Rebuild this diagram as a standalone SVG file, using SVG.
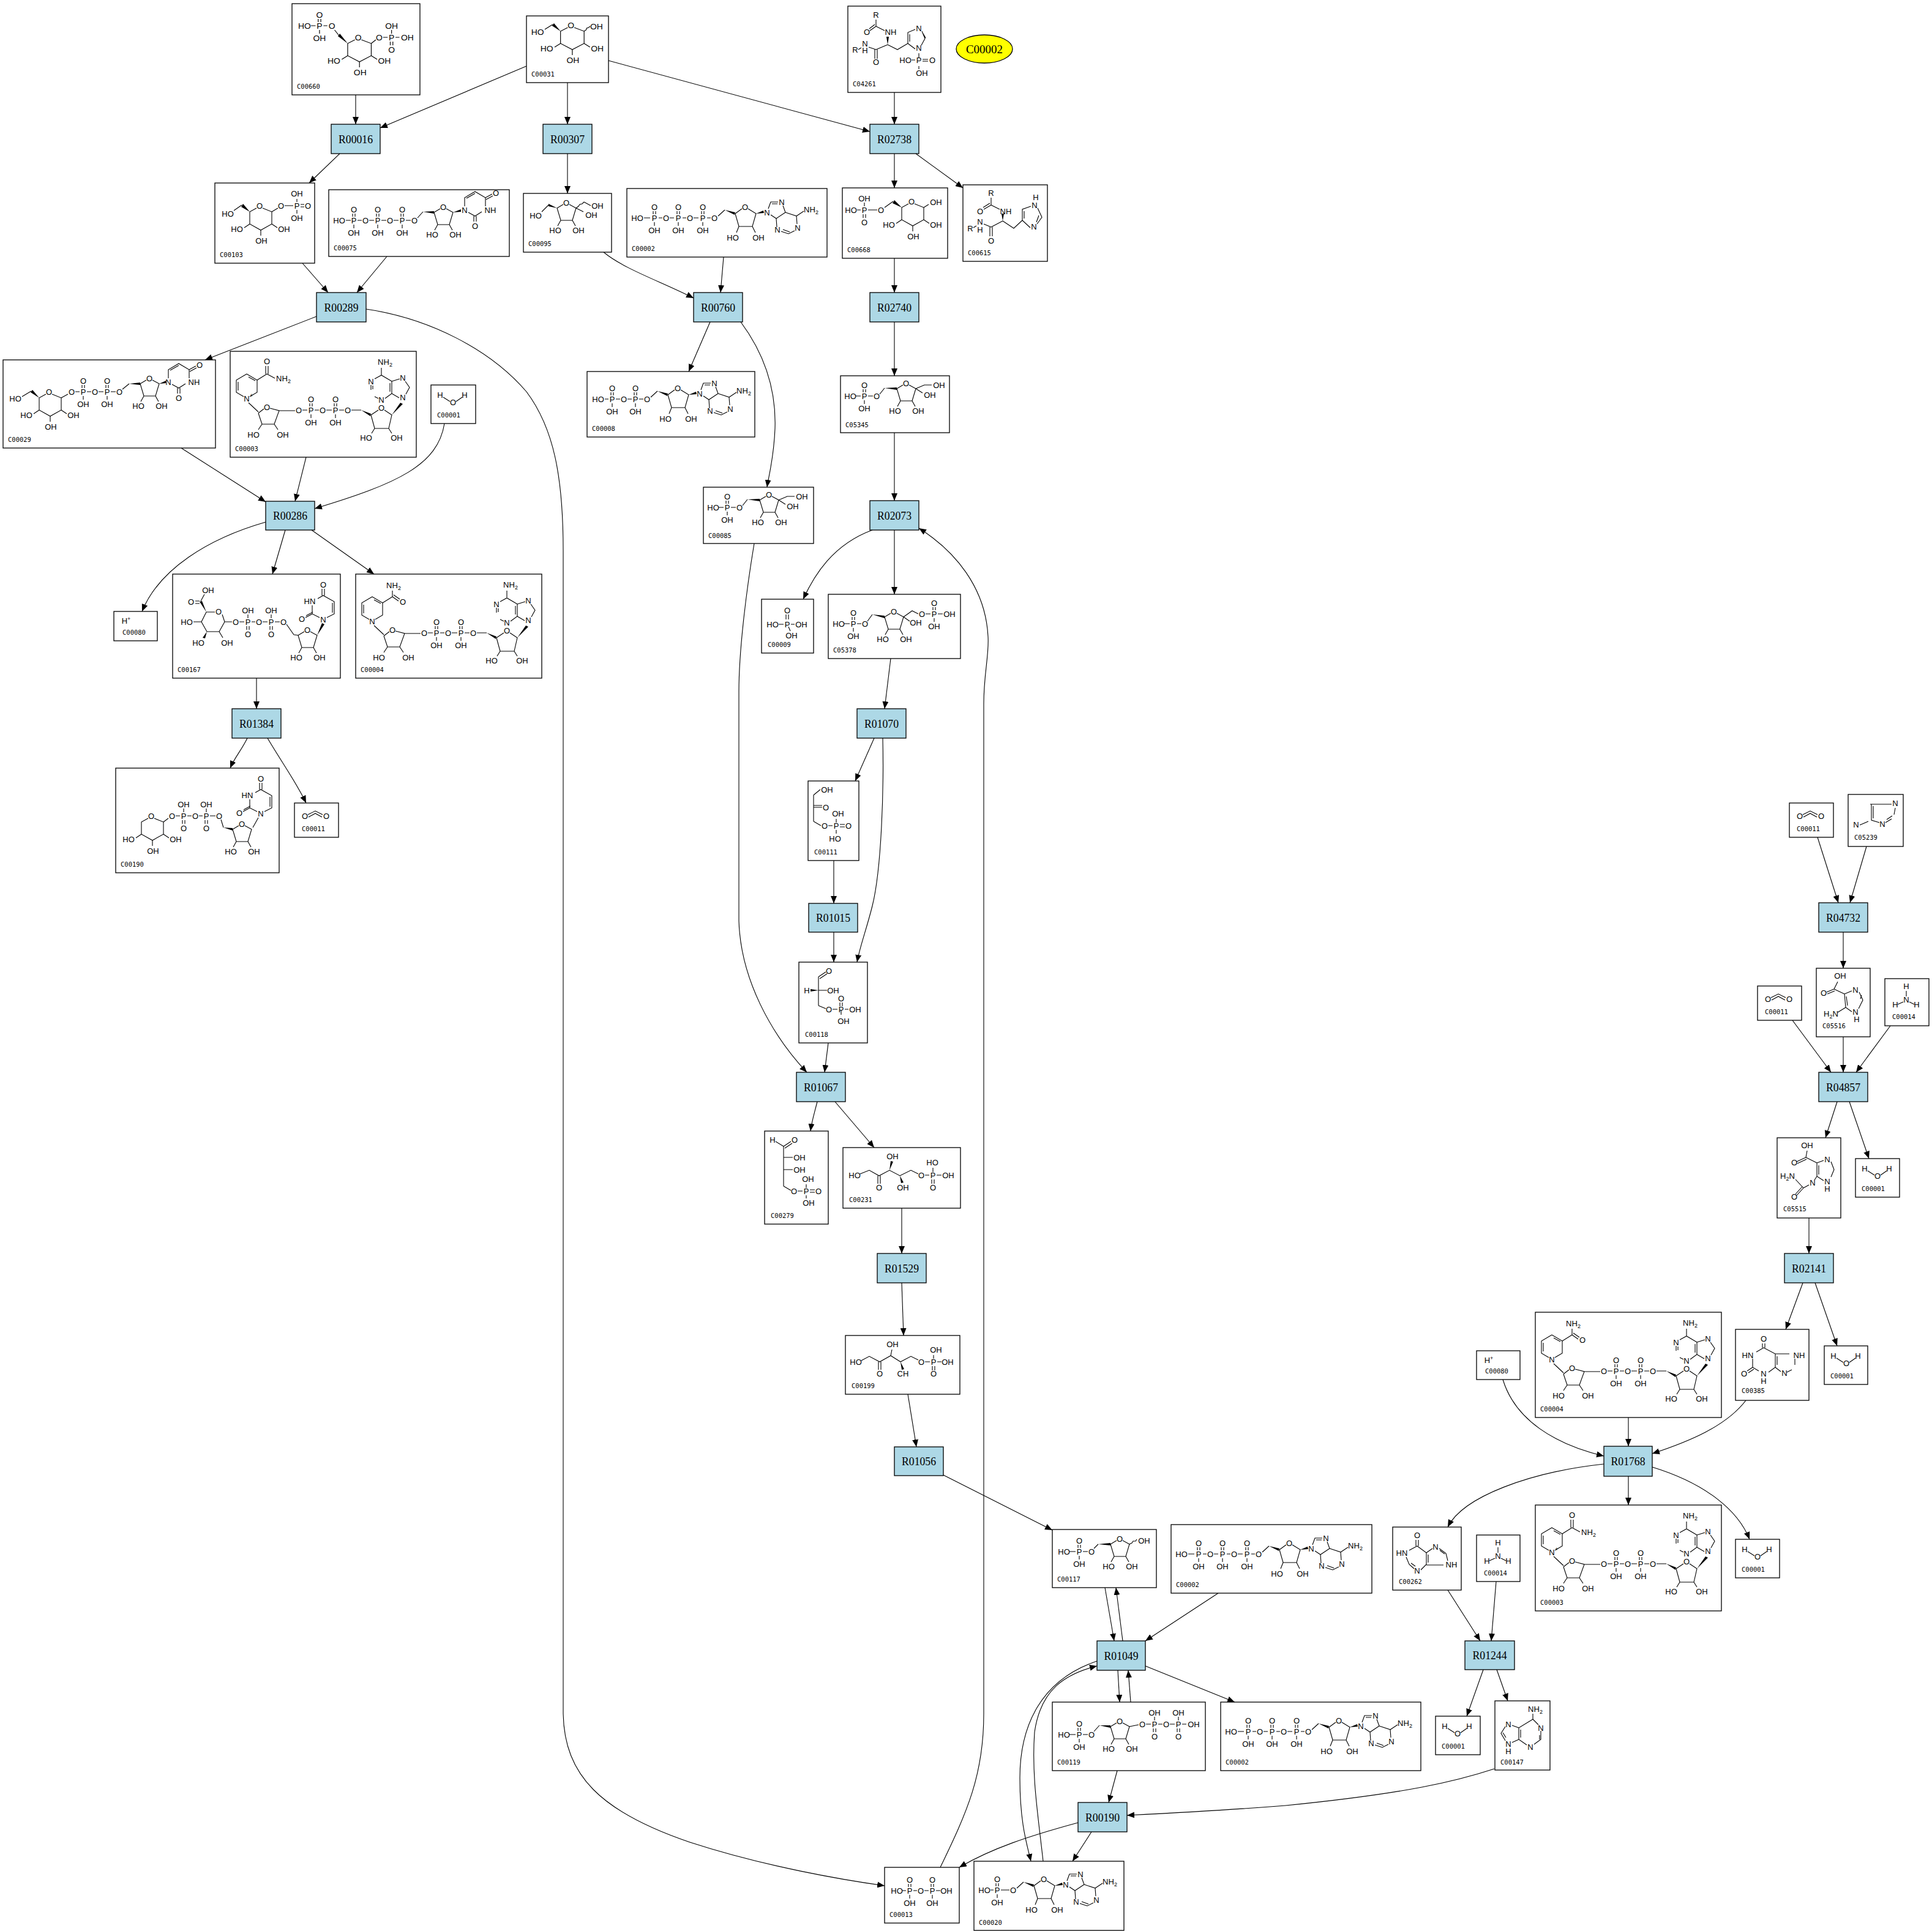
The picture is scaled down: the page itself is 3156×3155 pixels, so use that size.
<svg xmlns="http://www.w3.org/2000/svg" xmlns:xlink="http://www.w3.org/1999/xlink" width="3156" height="3155" viewBox="0 0 3156 3155">
<style>
.n>rect{fill:#fff;stroke:#000;stroke-width:1.3}
.r>rect{fill:#add8e6;stroke:#000;stroke-width:1.3}
.r>text,.el{font-family:"Liberation Serif","Times New Roman",serif;font-size:19px;text-anchor:middle;fill:#000}
.id{font-family:"DejaVu Sans Mono","Liberation Mono",monospace;font-size:10.5px;fill:#000}
.m path{fill:none;stroke:#000;stroke-width:1.1}
.m polygon{fill:#000;stroke:none}
.m text{font-family:"Liberation Sans",Arial,sans-serif;font-size:13px;text-anchor:middle;fill:#000}
.e path{fill:none;stroke:#000;stroke-width:1.1;marker-end:url(#ah)}
</style>
<defs>
<marker id="ah" viewBox="0 0 12 10" refX="12" refY="5" markerWidth="12" markerHeight="10" markerUnits="userSpaceOnUse" orient="auto"><path d="M0,0L12,5L0,10Z" fill="#000"/></marker>
<g id="pH" class="m"><path d="M-2,-6V-11M2,-6V-11M0,7V13"/><text y="5">P</text><text y="-13">O</text><text y="25">OH</text></g>
<g id="pV" class="m"><path d="M0,-6V-12M-2,7V13M2,7V13"/><text y="5">P</text><text y="-14">OH</text><text y="25">O</text></g>
<g id="fur" class="m"><path d="M-5,3L-15,9L-9,29H10L16,9L5,3M-9,29L-14,38M10,29L15,38"/><text y="5">O</text><text x="-18" y="50">HO</text><text x="20" y="50">OH</text></g>
<g id="pyr" class="m"><path d="M-5,4L-16,10V30L2,40L20,30V10L5,4M-16,30L-25,36M2,40V49M20,30L29,36"/><text y="5">O</text><text x="-37" y="43">HO</text><text x="3" y="62">OH</text><text x="40" y="43">OH</text></g>
<g id="aden" class="m"><path d="M2,-6L6,-17H18M8,-14H17M26,-11L30,0L15,10L6,4M30,0L48,6L49,19M45,30L35,35L23,31M37,32L26,28M16,24L15,10M48,6L60,-2"/><text y="5">N</text><text x="24" y="-12">N</text><text x="50" y="30">N</text><text x="17" y="33">N</text><text x="72" y="0">NH<tspan style="font-size:9px" dy="3">2</tspan></text></g>
<g id="ado" class="m"><path d="M6,-3L17,-13M34,-7L45,-15M55,-15L68,-7L62,14H40L34,-7M40,14L36,24M62,14L67,24"/><polygon points="17,-13 34,-9 33,-5"/><polygon points="68,-7 80,-12 81,-8"/><text y="5">O</text><text x="50" y="-13">O</text><text x="30" y="37">HO</text><text x="72" y="37">OH</text><use href="#aden" x="86" y="-9"/></g>
<g id="atp" class="m"><text x="17" y="53">HO</text><path d="M28,48H38M52,48H58M70,48H77M91,48H97M109,48H117M131,48H137"/><use href="#pH" x="45" y="48"/><text x="64" y="53">O</text><use href="#pH" x="84" y="48"/><text x="103" y="53">O</text><use href="#pH" x="124" y="48"/><use href="#ado" x="143" y="48"/></g>
<g id="ura" class="m"><path d="M0,-6V-20L17,-30L34,-20V-6M28,3L17,10L6,4M3,-19L17,-27M34,-20L45,-26M35,-17L46,-23M15,10V19M19,10V19"/><text y="5">N</text><text x="42" y="5">NH</text><text x="51" y="-23">O</text><text x="17" y="31">O</text></g>
<g id="urav" class="m"><path d="M6,-3L18,-9V-29L0,-39L-9,-34M-18,-23V-9L-6,-3M15,-11V-27M-2,-39V-50M2,-39V-50M-18,-9L-29,-3M-17,-12L-28,-6"/><text y="5">N</text><text x="-22" y="-25">HN</text><text y="-52">O</text><text x="-35" y="4">O</text></g>
<g id="nadc" class="m"><path d="M27,37L44,47V67L32,74M22,74L10,67V47L27,37M13,50V64M30,42L41,48M30,84L46,99M46,101L55,94M65,93L80,97L72,119H52L46,101M52,119L46,128M72,119L78,128M80,97H106M118,96H126M138,96H145M157,96H166M178,96H186M198,96H214M230,104L242,96M252,96L264,104L259,126H236L230,104M236,126L231,134M259,126L264,134M264,49L247,39L236,45M230,55V63M236,74L242,77M253,77L264,69V49M264,49L277,45M286,49L293,59L287,70M276,76L264,69M247,39V27M261,52V66M233,56V62"/><polygon points="214,96 230,102 229,106"/><polygon points="264,104 278,84 282,86"/><text x="27" y="82">N</text><text x="60" y="96">O</text><text x="38" y="141">HO</text><text x="86" y="141">OH</text><text x="112" y="101">O</text><use href="#pH" x="132" y="96"/><text x="151" y="101">O</text><use href="#pH" x="172" y="96"/><text x="192" y="101">O</text><text x="247" y="97">O</text><text x="222" y="146">HO</text><text x="272" y="146">OH</text><text x="230" y="54">N</text><text x="247" y="84">N</text><text x="282" y="48">N</text><text x="282" y="80">N</text><text x="253" y="22">NH<tspan style="font-size:9px" dy="3">2</tspan></text></g>
<g id="nadp" class="m"><use href="#nadc"/><path d="M44,47L60,37M58,37V24M62,37V24M60,37L73,44"/><text x="60" y="21">O</text><text x="87" y="49">NH<tspan style="font-size:9px" dy="3">2</tspan></text><text x="35" y="75" style="font-size:9px">+</text></g>
<g id="nadh" class="m"><use href="#nadc"/><path d="M44,47L60,37M60,37V27M60,37L70,44M62,34L72,41"/><text x="62" y="23">NH<tspan style="font-size:9px" dy="3">2</tspan></text><text x="77" y="50">O</text></g>
<g id="f6p" class="m"><text x="16" y="38">HO</text><path d="M25,33H33M45,33H53M64,30L72,20M123,21L137,15H149M123,21L134,28"/><use href="#pH" x="39" y="33"/><text x="59" y="38">O</text><polygon points="72,20 92,19 92,23"/><use href="#fur" x="107" y="12"/><text x="161" y="20">OH</text><text x="146" y="36">OH</text></g>
<g id="w" class="m"><text x="15" y="21">H</text><text x="36" y="33">O</text><text x="55" y="21">H</text><path d="M20,20L31,27M41,27L51,20"/></g>
<g id="co2" class="m"><text x="17" y="26">O</text><text x="52" y="26">O</text><path d="M22,19L34,13L46,19M23,23L34,17L45,23"/></g>
<g id="nh3" class="m"><text x="35" y="17">H</text><text x="35" y="39">N</text><text x="17" y="47">H</text><text x="52" y="47">H</text><path d="M35,20V29M30,38L21,42M40,38L48,42"/></g>
<g id="hp" class="m"><text x="20" y="20">H<tspan style="font-size:9px" dy="-5">+</tspan></text></g>
</defs>
<rect width="3156" height="3155" fill="#fff"/>

<g id="connectors" class="e">
<path d="M581,155V203"/>
<path d="M860,108L621,209"/>
<path d="M927,135V203"/>
<path d="M994,99L1421,215"/>
<path d="M1461,151V203"/>
<path d="M555,251L505,299"/>
<path d="M927,251V316"/>
<path d="M1461,251V307"/>
<path d="M1496,251L1573,307"/>
<path d="M494,430L536,478"/>
<path d="M632,419L583,478"/>
<path d="M986,412C1020,440 1080,460 1133,487"/>
<path d="M1182,420L1177,478"/>
<path d="M1461,422V478"/>
<path d="M517,517L335,588"/>
<path d="M598,505C700,520 800,570 860,640C905,700 920,780 920,900L920,2800C922,2900 980,2960 1127,3010C1250,3050 1380,3072 1445,3081"/>
<path d="M1160,526L1125,607"/>
<path d="M1210,526C1250,580 1268,640 1266,700C1264,750 1256,775 1253,796"/>
<path d="M1461,526V614"/>
<path d="M296,732L434,820"/>
<path d="M500,747L482,819"/>
<path d="M726,692C715,760 650,790 514,831"/>
<path d="M1461,707V818"/>
<path d="M434,853C340,880 260,930 232,999"/>
<path d="M466,866L445,938"/>
<path d="M509,866L611,938"/>
<path d="M1232,888C1220,960 1207,1060 1207,1130L1207,1505C1210,1600 1260,1690 1318,1752"/>
<path d="M1425,866C1360,890 1330,940 1312,979"/>
<path d="M1461,866V971"/>
<path d="M1536,3051C1580,2960 1607,2900 1607,2800L1607,1150C1607,1100 1616,1070 1614,1040C1610,960 1560,900 1501,863"/>
<path d="M419,1108V1158"/>
<path d="M1455,1076L1445,1158"/>
<path d="M404,1206C395,1225 383,1238 376,1255"/>
<path d="M437,1206C460,1245 485,1280 500,1312"/>
<path d="M1428,1206L1397,1276"/>
<path d="M1442,1206C1444,1290 1440,1420 1425,1480C1415,1520 1405,1545 1400,1572"/>
<path d="M1362,1406V1476"/>
<path d="M1362,1523V1572"/>
<path d="M1353,1704L1347,1752"/>
<path d="M1335,1800C1330,1820 1326,1832 1324,1848"/>
<path d="M1364,1800L1428,1875"/>
<path d="M1473,1974V2048"/>
<path d="M1473,2096L1476,2182"/>
<path d="M1483,2278L1497,2364"/>
<path d="M1541,2410L1719,2500"/>
<path d="M1805,2594L1820,2681"/>
<path d="M1834,2681L1823,2594"/>
<path d="M1990,2603L1871,2681"/>
<path d="M1871,2722L2017,2781"/>
<path d="M1826,2729L1829,2781"/>
<path d="M1847,2781L1843,2729"/>
<path d="M1792,2714C1700,2745 1666,2820 1666,2905C1666,2980 1678,3015 1684,3041"/>
<path d="M1704,3041C1695,2960 1685,2900 1690,2830C1700,2760 1740,2735 1792,2722"/>
<path d="M1825,2893L1811,2945"/>
<path d="M2441,2890C2380,2910 2300,2930 2100,2950C2000,2958 1900,2963 1841,2966"/>
<path d="M1761,2978C1680,3000 1620,3020 1567,3051"/>
<path d="M1783,2993L1752,3041"/>
<path d="M2969,1368L3003,1475"/>
<path d="M3049,1383L3022,1475"/>
<path d="M3011,1523V1582"/>
<path d="M2928,1667L2991,1752"/>
<path d="M3011,1694V1752"/>
<path d="M3088,1676L3032,1752"/>
<path d="M3001,1800L2982,1859"/>
<path d="M3021,1800L3053,1893"/>
<path d="M2955,1990V2048"/>
<path d="M2945,2096L2917,2172"/>
<path d="M2965,2096L3001,2199"/>
<path d="M2455,2254C2475,2320 2540,2360 2620,2379"/>
<path d="M2660,2316V2363"/>
<path d="M2852,2288C2820,2330 2760,2355 2699,2375"/>
<path d="M2620,2392C2500,2405 2390,2445 2365,2495"/>
<path d="M2660,2412V2459"/>
<path d="M2699,2397C2790,2425 2840,2470 2858,2515"/>
<path d="M2365,2598L2418,2681"/>
<path d="M2444,2584L2436,2681"/>
<path d="M2423,2728L2396,2804"/>
<path d="M2445,2728L2463,2779"/>
</g>

<g id="reactions">
<g id="R00016" class="r" transform="translate(541,203)"><rect width="80" height="48"/><text x="40" y="31" textLength="56" lengthAdjust="spacingAndGlyphs">R00016</text></g>
<g id="R00307" class="r" transform="translate(887,203)"><rect width="80" height="48"/><text x="40" y="31" textLength="56" lengthAdjust="spacingAndGlyphs">R00307</text></g>
<g id="R02738" class="r" transform="translate(1421,203)"><rect width="80" height="48"/><text x="40" y="31" textLength="56" lengthAdjust="spacingAndGlyphs">R02738</text></g>
<g id="R00289" class="r" transform="translate(517,478)"><rect width="81" height="48"/><text x="40.5" y="31" textLength="56" lengthAdjust="spacingAndGlyphs">R00289</text></g>
<g id="R00760" class="r" transform="translate(1133,478)"><rect width="80" height="48"/><text x="40" y="31" textLength="56" lengthAdjust="spacingAndGlyphs">R00760</text></g>
<g id="R02740" class="r" transform="translate(1421,478)"><rect width="80" height="48"/><text x="40" y="31" textLength="56" lengthAdjust="spacingAndGlyphs">R02740</text></g>
<g id="R00286" class="r" transform="translate(434,819)"><rect width="80" height="47"/><text x="40" y="30" textLength="56" lengthAdjust="spacingAndGlyphs">R00286</text></g>
<g id="R02073" class="r" transform="translate(1421,818)"><rect width="80" height="48"/><text x="40" y="31" textLength="56" lengthAdjust="spacingAndGlyphs">R02073</text></g>
<g id="R01384" class="r" transform="translate(379,1158)"><rect width="80" height="48"/><text x="40" y="31" textLength="56" lengthAdjust="spacingAndGlyphs">R01384</text></g>
<g id="R01070" class="r" transform="translate(1400,1158)"><rect width="80" height="48"/><text x="40" y="31" textLength="56" lengthAdjust="spacingAndGlyphs">R01070</text></g>
<g id="R01015" class="r" transform="translate(1321,1476)"><rect width="80" height="47"/><text x="40" y="30" textLength="56" lengthAdjust="spacingAndGlyphs">R01015</text></g>
<g id="R01067" class="r" transform="translate(1301,1752)"><rect width="80" height="48"/><text x="40" y="31" textLength="56" lengthAdjust="spacingAndGlyphs">R01067</text></g>
<g id="R01529" class="r" transform="translate(1433,2048)"><rect width="80" height="48"/><text x="40" y="31" textLength="56" lengthAdjust="spacingAndGlyphs">R01529</text></g>
<g id="R01056" class="r" transform="translate(1461,2364)"><rect width="80" height="47"/><text x="40" y="30" textLength="56" lengthAdjust="spacingAndGlyphs">R01056</text></g>
<g id="R04732" class="r" transform="translate(2971,1475)"><rect width="80" height="48"/><text x="40" y="31" textLength="56" lengthAdjust="spacingAndGlyphs">R04732</text></g>
<g id="R04857" class="r" transform="translate(2971,1752)"><rect width="80" height="48"/><text x="40" y="31" textLength="56" lengthAdjust="spacingAndGlyphs">R04857</text></g>
<g id="R02141" class="r" transform="translate(2915,2048)"><rect width="80" height="48"/><text x="40" y="31" textLength="56" lengthAdjust="spacingAndGlyphs">R02141</text></g>
<g id="R01768" class="r" transform="translate(2620,2363)"><rect width="79" height="49"/><text x="39.5" y="31" textLength="56" lengthAdjust="spacingAndGlyphs">R01768</text></g>
<g id="R01244" class="r" transform="translate(2393,2681)"><rect width="81" height="47"/><text x="40.5" y="30" textLength="56" lengthAdjust="spacingAndGlyphs">R01244</text></g>
<g id="R01049" class="r" transform="translate(1792,2681)"><rect width="79" height="48"/><text x="39.5" y="31" textLength="56" lengthAdjust="spacingAndGlyphs">R01049</text></g>
<g id="R00190" class="r" transform="translate(1761,2945)"><rect width="80" height="48"/><text x="40" y="31" textLength="56" lengthAdjust="spacingAndGlyphs">R00190</text></g>
</g>

<g id="C00002_ellipse"><ellipse cx="1608" cy="80" rx="46" ry="23" fill="#ffff00" stroke="#000" stroke-width="1.3"/><text class="el" x="1608" y="87">C00002</text></g>

<g id="compounds">
<g id="C00660" class="n" transform="translate(477,6)"><rect width="209" height="149"/><g class="m" transform="scale(1.07,1)"><use href="#pyr" x="101" y="55"/><polygon points="85,65 70,53 73,49"/><path d="M71,51L65,43M54,36H48M36,36H29M121,65L128,59M139,55H146M158,55H164"/><text x="61" y="41">O</text><use href="#pH" x="42" y="36"/><text x="19" y="41">HO</text><text x="133" y="60">O</text><use href="#pV" x="152" y="55"/><text x="176" y="60">OH</text></g><text class="id" x="8" y="139">C00660</text></g>

<g id="C00031" class="n" transform="translate(860,26)"><rect width="134" height="109"/><g class="m" transform="scale(1.07,1)"><use href="#pyr" x="68" y="15"/><polygon points="52,25 39,16 42,12"/><path d="M40,14L28,22M88,25l3,-2l1,-3l3,-1l2,-2"/><text x="17" y="31">HO</text><text x="107" y="22">OH</text></g><text class="id" x="8" y="99">C00031</text></g>

<g id="C04261" class="n" transform="translate(1385,10)"><rect width="152" height="141"/><g class="m"><path d="M46,22V33M46,33L36,40M44,30L35,37M46,33L60,40M65,63L46,71M44,71V86M48,71V86M46,71L34,67M22,68L17,71M65,63L81,71L98,61M98,61V43L110,38M101,58V46M121,41L126,53L120,64M123,45L127,52M110,70L98,61M116,77V84M110,88H104M122,87H131M122,90H131M116,98V103"/><polygon points="65,63 63,50 67,50"/><text x="46" y="19">R</text><text x="31" y="47">O</text><text x="70" y="47">NH</text><text x="28" y="66">N</text><text x="28" y="77">H</text><text x="12" y="76">R</text><text x="46" y="96">O</text><text x="116" y="41">N</text><text x="116" y="73">N</text><text x="116" y="93">P</text><text x="94" y="93">HO</text><text x="138" y="93">O</text><text x="121" y="114">OH</text></g><text class="id" x="8" y="131">C04261</text></g>

<g id="C00103" class="n" transform="translate(351,299)"><rect width="163" height="131"/><g class="m"><use href="#pyr" x="73" y="37"/><polygon points="57,47 43,39 46,34"/><path d="M44,36L31,45M93,47L103,41M114,37H128M134,31V26M134,44V50M140,35H146M140,39H146"/><text x="21" y="55">HO</text><text x="108" y="42">O</text><text x="134" y="42">P</text><text x="134" y="22">OH</text><text x="134" y="62">OH</text><text x="152" y="42">O</text></g><text class="id" x="8" y="121">C00103</text></g>

<g id="C00075" class="n" transform="translate(537,310)"><rect width="295" height="109"/><g class="m"><text x="17" y="55">HO</text><path d="M28,50H36M47,50H54M66,50H74M86,50H94M106,50H114M126,50H134M145,46L154,36"/><use href="#pH" x="41" y="50"/><use href="#pH" x="80" y="50"/><use href="#pH" x="120" y="50"/><text x="60" y="55">O</text><text x="100" y="55">O</text><text x="140" y="55">O</text><polygon points="154,36 172,35 172,39"/><use href="#fur" x="187" y="28"/><polygon points="203,37 216,32 216,36"/><use href="#ura" x="222" y="33"/></g><text class="id" x="8" y="99">C00075</text></g>

<g id="C00095" class="n" transform="translate(855,316)"><rect width="144" height="96"/><g class="m"><use href="#fur" x="70" y="15"/><polygon points="55,24 41,17 41,21"/><path d="M41,19L30,30M86,24l4,-3l2,-3l4,-1l3,-3M99,14L110,20M86,24L98,30"/><text x="20" y="41">HO</text><text x="121" y="25">OH</text><text x="111" y="40">OH</text></g><text class="id" x="8" y="86">C00095</text></g>

<g id="C00002_1" class="n" transform="translate(1024,308)"><rect width="327" height="112"/><use href="#atp"/><text class="id" x="8" y="102">C00002</text></g>

<g id="C00668" class="n" transform="translate(1376,307)"><rect width="172" height="115"/><g class="m"><use href="#pyr" x="113" y="22"/><polygon points="97,32 82,25 85,20"/><path d="M133,32L141,27M83,22L69,32M57,36H42M30,36H24"/><text x="153" y="28">OH</text><text x="63" y="41">O</text><use href="#pV" x="36" y="36"/><text x="14" y="41">HO</text></g><text class="id" x="8" y="105">C00668</text></g>

<g id="C00615" class="n" transform="translate(1573,302)"><rect width="138" height="125"/><g class="m"><path d="M46,21V33M46,33L34,40M44,30L33,37M46,33L60,40M65,59L46,69M44,69V84M48,69V84M46,69L34,64M22,67L17,70M65,59L83,71L97,58M97,58V40L111,35M100,55V43M122,38L129,53L121,64M124,50L120,61M110,70L97,58"/><polygon points="65,59 63,47 67,47"/><text x="46" y="18">R</text><text x="28" y="48">O</text><text x="70" y="48">NH</text><text x="28" y="65">N</text><text x="28" y="78">H</text><text x="12" y="76">R</text><text x="46" y="96">O</text><text x="119" y="25">H</text><text x="117" y="38">N</text><text x="116" y="73">N</text></g><text class="id" x="8" y="115">C00615</text></g>

<g id="C00029" class="n" transform="translate(5,588)"><rect width="347" height="144"/><g class="m"><use href="#pyr" x="75" y="52"/><polygon points="59,62 45,53 48,49"/><path d="M46,51L31,60M95,62L106,56M118,52H125M137,52H144M156,52H164M176,52H184M195,48L206,39"/><text x="20" y="68">HO</text><text x="112" y="57">O</text><use href="#pH" x="131" y="52"/><text x="150" y="57">O</text><use href="#pH" x="170" y="52"/><text x="190" y="57">O</text><polygon points="206,39 224,37 224,41"/><use href="#fur" x="239" y="30"/><polygon points="255,39 266,34 266,38"/><use href="#ura" x="270" y="36"/></g><text class="id" x="8" y="134">C00029</text></g>

<g id="C00003_1" class="n" transform="translate(376,574)"><rect width="304" height="173"/><use href="#nadp"/><text class="id" x="8" y="163">C00003</text></g>

<g id="C00001_1" class="n" transform="translate(704,629)"><rect width="73" height="63"/><use href="#w"/><text class="id" x="10" y="53">C00001</text></g>

<g id="C00008" class="n" transform="translate(959,607)"><rect width="274" height="107"/><g class="m"><text x="18" y="50">HO</text><path d="M29,45H35M47,45H54M66,45H73M85,45H92"/><use href="#pH" x="41" y="45"/><text x="60" y="50">O</text><use href="#pH" x="79" y="45"/><use href="#ado" x="98" y="45"/></g><text class="id" x="8" y="97">C00008</text></g>

<g id="C05345" class="n" transform="translate(1373,614)"><rect width="178" height="93"/><use href="#f6p"/><text class="id" x="8" y="84">C05345</text></g>

<g id="C00085" class="n" transform="translate(1149,796)"><rect width="180" height="92"/><use href="#f6p"/><text class="id" x="8" y="83">C00085</text></g>

<g id="C00080_1" class="n" transform="translate(186,999)"><rect width="71" height="48"/><use href="#hp"/><text class="id" x="14" y="38">C00080</text></g>

<g id="C00167" class="n" transform="translate(282,938)"><rect width="274" height="170"/><g class="m"><path d="M55,62H69M81,66L85,78L76,94H56L47,78L55,62M44,44H37M44,48H37M46,44L52,33M47,78H34M76,94L82,104M85,78H97M109,78H117M129,78H135M147,78H155M167,78H175M186,82L198,99L205,100"/><polygon points="55,62 44,45 48,44"/><polygon points="56,94 49,104 53,105"/><polygon points="236,100 244,80 248,82"/><text x="75" y="66">O</text><text x="30" y="50">O</text><text x="58" y="31">OH</text><text x="23" y="83">HO</text><text x="42" y="117">HO</text><text x="89" y="117">OH</text><text x="103" y="83">O</text><use href="#pV" x="123" y="78"/><text x="141" y="83">O</text><use href="#pV" x="161" y="78"/><text x="181" y="83">O</text><use href="#fur" x="220" y="91"/><use href="#urav" x="246" y="74"/></g><text class="id" x="8" y="160">C00167</text></g>

<g id="C00004_1" class="n" transform="translate(581,938)"><rect width="304" height="170"/><use href="#nadh"/><text class="id" x="8" y="160">C00004</text></g>

<g id="C00009" class="n" transform="translate(1244,979)"><rect width="85" height="88"/><g class="m"><path d="M40,33V25M44,33V25M28,41H36M48,41H54M44,45L47,52"/><text x="42" y="46">P</text><text x="42" y="23">O</text><text x="18" y="46">HO</text><text x="65" y="46">OH</text><text x="49" y="64">OH</text></g><text class="id" x="10" y="78">C00009</text></g>

<g id="C05378" class="n" transform="translate(1353,971)"><rect width="216" height="105"/><g class="m"><text x="17" y="53">HO</text><path d="M26,48H35M47,48H54M64,44L72,33M123,37L133,44M123,37L137,27L147,32M159,32H167M179,32H187"/><use href="#pH" x="41" y="48"/><text x="60" y="53">O</text><polygon points="72,33 92,35 92,39"/><use href="#fur" x="107" y="28"/><text x="143" y="51">OH</text><text x="153" y="37">O</text><use href="#pH" x="173" y="32"/><text x="198" y="37">OH</text></g><text class="id" x="8" y="95">C05378</text></g>

<g id="C00011_1" class="n" transform="translate(481,1312)"><rect width="72" height="56"/><use href="#co2"/><text class="id" x="12" y="46">C00011</text></g>

<g id="C00190" class="n" transform="translate(189,1255)"><rect width="267" height="171"/><g class="m"><use href="#pyr" x="58" y="78"/><path d="M78,88L86,82M98,78H105M117,78H124M136,78H142M154,78H163M172,84L176,97M224,97L233,81"/><text x="92" y="83">O</text><use href="#pV" x="111" y="78"/><text x="130" y="83">O</text><use href="#pV" x="148" y="78"/><text x="169" y="83">O</text><polygon points="176,97 191,98 191,102"/><use href="#fur" x="206" y="91"/><use href="#urav" x="237" y="74"/></g><text class="id" x="8" y="161">C00190</text></g>

<g id="C00111" class="n" transform="translate(1320,1276)"><rect width="83" height="130"/><g class="m"><path d="M9,23L20,14M9,23V66M9,43H23M9,40H23M9,66L21,73M33,73H40M46,68V62M52,71H60M52,75H60M46,80V86"/><text x="31" y="19">OH</text><text x="29" y="48">O</text><text x="27" y="78">O</text><text x="46" y="78">P</text><text x="49" y="58">OH</text><text x="66" y="78">O</text><text x="44" y="99">HO</text></g><text class="id" x="10" y="120">C00111</text></g>

<g id="C00118" class="n" transform="translate(1305,1572)"><rect width="112" height="132"/><g class="m"><path d="M32,24L44,16M34,27L46,19M32,24V71M32,46H46M32,71L44,76M55,77H63M67,72V66M71,72V66M75,77H81M69,79V86"/><polygon points="32,46 19,44 19,48"/><text x="49" y="19">O</text><text x="13" y="51">H</text><text x="56" y="51">OH</text><text x="49" y="82">O</text><text x="69" y="82">P</text><text x="69" y="64">O</text><text x="92" y="82">OH</text><text x="73" y="101">OH</text></g><text class="id" x="10" y="122">C00118</text></g>

<g id="C00279" class="n" transform="translate(1249,1848)"><rect width="104" height="152"/><g class="m"><path d="M18,17L31,25M31,25L43,17M33,28L45,20M31,25V90M31,43H46M31,63H46M31,90L43,97M54,98H62M68,93V87M74,96H82M74,100H82M68,105V110"/><text x="13" y="19">H</text><text x="49" y="19">O</text><text x="57" y="48">OH</text><text x="57" y="68">OH</text><text x="48" y="103">O</text><text x="68" y="103">P</text><text x="71" y="83">OH</text><text x="88" y="103">O</text><text x="72" y="122">OH</text></g><text class="id" x="10" y="142">C00279</text></g>

<g id="C00231" class="n" transform="translate(1377,1875)"><rect width="192" height="99"/><g class="m"><path d="M28,43L43,37L59,46L76,37L93,46L111,37L123,43M57,46V59M61,46V59M134,45H141M147,40V33M153,45H161M145,52V59M149,52V59"/><polygon points="76,37 78,22 82,23"/><polygon points="93,46 95,58 99,57"/><text x="19" y="50">HO</text><text x="59" y="70">O</text><text x="81" y="19">OH</text><text x="98" y="70">OH</text><text x="128" y="50">O</text><text x="147" y="50">P</text><text x="146" y="29">HO</text><text x="172" y="50">OH</text><text x="147" y="70">O</text></g><text class="id" x="10" y="89">C00231</text></g>

<g id="C00199" class="n" transform="translate(1381,2182)"><rect width="187" height="96"/><g class="m"><path d="M26,41L39,34L56,43L74,33L90,43L107,34L119,40M54,43V56M58,43V56M74,33L76,23M130,43H138M144,38V32M150,43H157M142,50V57M146,50V57"/><polygon points="90,43 92,56 96,55"/><text x="17" y="48">HO</text><text x="56" y="67">O</text><text x="77" y="19">OH</text><text x="94" y="67">CH</text><text x="124" y="48">O</text><text x="144" y="48">P</text><text x="148" y="28">OH</text><text x="167" y="48">OH</text><text x="144" y="67">O</text></g><text class="id" x="10" y="86">C00199</text></g>

<g id="C00011_2" class="n" transform="translate(2923,1312)"><rect width="72" height="56"/><use href="#co2"/><text class="id" x="12" y="46">C00011</text></g>

<g id="C05239" class="n" transform="translate(3019,1298)"><rect width="90" height="85"/><g class="m"><path d="M36,16H71M77,22L75,33M71,40L61,46M51,46L38,42V16M41,19V39M72,35L63,41M33,44L19,50"/><text x="77" y="19">N</text><text x="56" y="53">N</text><text x="13" y="54">N</text></g><text class="id" x="10" y="74">C05239</text></g>

<g id="C00011_3" class="n" transform="translate(2871,1611)"><rect width="72" height="56"/><use href="#co2"/><text class="id" x="12" y="46">C00011</text></g>

<g id="C05516" class="n" transform="translate(2967,1582)"><rect width="88" height="112"/><g class="m"><path d="M29,34L35,22M29,34L17,39M30,37L18,42M29,34L46,42M46,42L58,37M70,39L76,52L69,66M58,71L48,64L46,42M49,46L51,61M74,44L72,50M48,64L35,72"/><text x="39" y="17">OH</text><text x="12" y="45">O</text><text x="64" y="40">N</text><text x="64" y="76">N</text><text x="66" y="88">H</text><text x="24" y="79">H<tspan style="font-size:9px" dy="3">2</tspan><tspan dy="-3">N</tspan></text></g><text class="id" x="10" y="98">C05516</text></g>

<g id="C00014_1" class="n" transform="translate(3079,1599)"><rect width="72" height="77"/><use href="#nh3"/><text class="id" x="12" y="66">C00014</text></g>

<g id="C05515" class="n" transform="translate(2903,1859)"><rect width="104" height="131"/><g class="m"><path d="M47,32L49,21M47,32L32,39M48,35L33,42M47,32L65,41M65,41L76,37M88,39L93,52L88,64M76,70L65,63V41M68,45V60M65,63L61,69M52,77L43,82M43,82L30,68M43,82L32,94M41,80L30,92"/><text x="49" y="17">OH</text><text x="28" y="45">O</text><text x="82" y="40">N</text><text x="82" y="76">N</text><text x="82" y="88">H</text><text x="58" y="78">N</text><text x="17" y="67">H<tspan style="font-size:9px" dy="3">2</tspan><tspan dy="-3">N</tspan></text><text x="28" y="101">O</text></g><text class="id" x="10" y="120">C05515</text></g>

<g id="C00001_2" class="n" transform="translate(3031,1893)"><rect width="72" height="63"/><use href="#w"/><text class="id" x="10" y="53">C00001</text></g>

<g id="C00004_2" class="n" transform="translate(2508,2144)"><rect width="304" height="172"/><use href="#nadh"/><text class="id" x="8" y="162">C00004</text></g>

<g id="C00080_2" class="n" transform="translate(2412,2207)"><rect width="71" height="47"/><use href="#hp"/><text class="id" x="14" y="37">C00080</text></g>

<g id="C00385" class="n" transform="translate(2835,2172)"><rect width="120" height="116"/><g class="m"><path d="M44,23V30M48,23V30M46,30L34,37M28,48V62L38,68M54,70L65,62V40L46,30M28,62L19,68M30,65L21,71M65,40H88M97,48V58M92,66L84,70M74,69L65,62M68,44V58"/><text x="46" y="20">O</text><text x="20" y="47">HN</text><text x="14" y="77">O</text><text x="46" y="77">N</text><text x="46" y="89">H</text><text x="104" y="47">NH</text><text x="80" y="76">N</text></g><text class="id" x="10" y="104">C00385</text></g>

<g id="C00001_3" class="n" transform="translate(2980,2199)"><rect width="71" height="63"/><use href="#w"/><text class="id" x="10" y="53">C00001</text></g>

<g id="C00262" class="n" transform="translate(2275,2495)"><rect width="112" height="103"/><g class="m"><path d="M38,21V31M42,21V31M40,31L27,38M22,49L27,61L35,68M46,70L55,61V42L40,31M30,59L37,64M55,42L65,35M76,35L87,43L90,55M83,62H55M58,45V58M77,38L85,44"/><text x="40" y="18">O</text><text x="15" y="47">HN</text><text x="40" y="76">N</text><text x="70" y="37">N</text><text x="96" y="66">NH</text></g><text class="id" x="10" y="93">C00262</text></g>

<g id="C00014_2" class="n" transform="translate(2412,2508)"><rect width="71" height="76"/><use href="#nh3"/><text class="id" x="12" y="66">C00014</text></g>

<g id="C00003_2" class="n" transform="translate(2508,2459)"><rect width="304" height="173"/><use href="#nadp"/><text class="id" x="8" y="163">C00003</text></g>

<g id="C00001_4" class="n" transform="translate(2835,2515)"><rect width="72" height="63"/><use href="#w"/><text class="id" x="10" y="53">C00001</text></g>

<g id="C00001_5" class="n" transform="translate(2345,2804)"><rect width="73" height="63"/><use href="#w"/><text class="id" x="10" y="53">C00001</text></g>

<g id="C00147" class="n" transform="translate(2442,2779)"><rect width="90" height="113"/><g class="m"><path d="M62,21V30M62,30L71,39M75,49V63L64,71M52,72L39,63V44L62,30M42,47V60M73,56V63M39,44L28,40M17,42L10,53L17,65M13,52L18,60M28,68L39,63"/><text x="66" y="18">NH<tspan style="font-size:9px" dy="3">2</tspan></text><text x="75" y="49">N</text><text x="58" y="80">N</text><text x="22" y="43">N</text><text x="22" y="75">N</text><text x="22" y="87">H</text></g><text class="id" x="9" y="104">C00147</text></g>

<g id="C00117" class="n" transform="translate(1719,2499)"><rect width="170" height="95"/><g class="m"><text x="19" y="41">HO</text><path d="M28,36H38M50,36H58M68,31L75,24M126,24l4,-2l2,-3l4,0l2,-3"/><use href="#pH" x="44" y="36"/><text x="64" y="41">O</text><polygon points="75,24 95,22 95,26"/><use href="#fur" x="110" y="15"/><text x="150" y="23">OH</text></g><text class="id" x="8" y="85">C00117</text></g>

<g id="C00002_2" class="n" transform="translate(1913,2491)"><rect width="328" height="112"/><use href="#atp"/><text class="id" x="8" y="102">C00002</text></g>

<g id="C00119" class="n" transform="translate(1719,2781)"><rect width="250" height="112"/><g class="m"><text x="19" y="58">HO</text><path d="M28,53H38M50,53H58M68,48L77,38M126,40L141,37M153,36H161M173,36H180M192,36H200M212,36H219"/><use href="#pH" x="44" y="53"/><text x="64" y="58">O</text><polygon points="77,38 95,38 95,42"/><use href="#fur" x="110" y="31"/><text x="147" y="41">O</text><use href="#pV" x="167" y="36"/><text x="186" y="41">O</text><use href="#pV" x="206" y="36"/><text x="231" y="41">OH</text></g><text class="id" x="8" y="102">C00119</text></g>

<g id="C00002_3" class="n" transform="translate(1994,2781)"><rect width="327" height="112"/><use href="#atp"/><text class="id" x="8" y="102">C00002</text></g>

<g id="C00013" class="n" transform="translate(1445,3051)"><rect width="122" height="91"/><g class="m"><text x="20" y="43">HO</text><path d="M29,38H35M47,38H53M65,38H72M84,38H91"/><use href="#pH" x="41" y="38"/><text x="59" y="43">O</text><use href="#pH" x="78" y="38"/><text x="101" y="43">OH</text></g><text class="id" x="8" y="81">C00013</text></g>

<g id="C00020" class="n" transform="translate(1591,3041)"><rect width="245" height="113"/><g class="m"><text x="17" y="52">HO</text><path d="M27,47H32M44,47H58"/><use href="#pH" x="38" y="47"/><use href="#ado" x="64" y="47"/></g><text class="id" x="8" y="104">C00020</text></g>
</g>
</svg>
